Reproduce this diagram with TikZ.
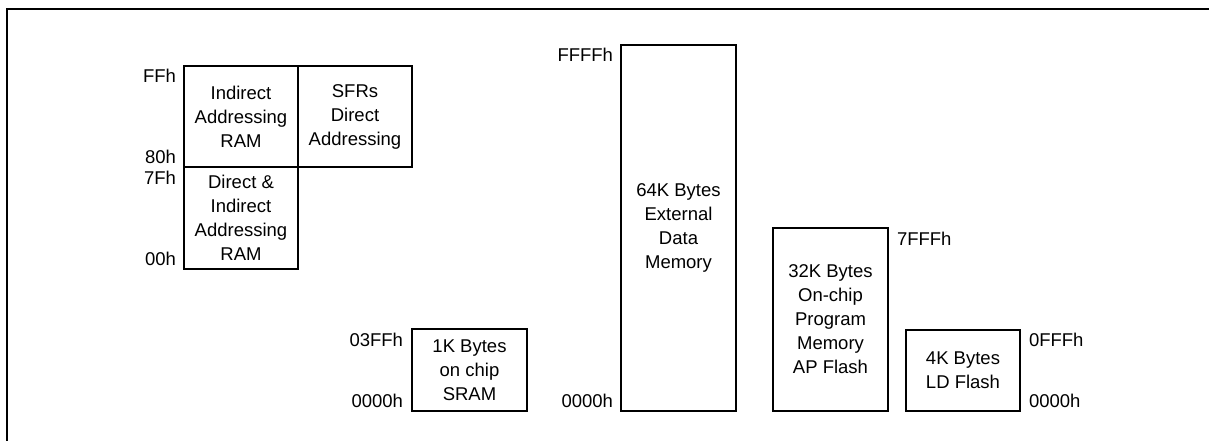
\documentclass[tikz,border=0pt]{standalone}
\usepackage{fontspec}
\setmainfont{Liberation Sans}
\begin{document}
\begin{tikzpicture}[x=1pt,y=-1pt,
  font=\fontsize{18.5}{24}\selectfont,
  mem/.style={draw, line width=1.2pt, inner sep=0pt, outer sep=0pt, align=center, anchor=north west},
  lbl/.style={inner sep=0pt, outer sep=0pt}]
\useasboundingbox (0,0) rectangle (1209,441);
\coordinate (fbl) at (7,446);
\coordinate (ftl) at (7,9);
\coordinate (ftr) at (1214,9);
\draw[line width=2pt] (fbl) -- (ftl) -- (ftr);

\node[mem, minimum width=114pt, minimum height=101pt] (iar) at (184,66) {Indirect\\Addressing\\RAM};
\node[mem, minimum width=114pt, minimum height=101pt] (sfr) at (298,66) {SFRs\\Direct\\Addressing};
\node[mem, minimum width=114pt, minimum height=102pt] (dir) at (184,167) {Direct \&\\Indirect\\Addressing\\RAM};
\node[mem, minimum width=115pt, minimum height=82pt] (sram) at (412,329) {1K Bytes\\on chip\\SRAM};
\node[mem, minimum width=115pt, minimum height=366pt] (ext) at (621,45) {64K Bytes\\External\\Data\\Memory};
\node[mem, minimum width=115pt, minimum height=183pt] (ap) at (773,228) {32K Bytes\\On-chip\\Program\\Memory\\AP Flash};
\node[mem, minimum width=114pt, minimum height=81pt] (ld) at (906,330) {4K Bytes\\LD Flash};

\node[lbl, anchor=base east] (lffh) at ([xshift=-8pt,yshift=-17pt]iar.north west) {FFh};
\node[lbl, anchor=base east] (l80h) at ([xshift=-8pt,yshift=4pt]iar.south west) {80h};
\node[lbl, anchor=base east] (l7fh) at ([xshift=-8pt,yshift=-17pt]dir.north west) {7Fh};
\node[lbl, anchor=base east] (l00h) at ([xshift=-8pt,yshift=4pt]dir.south west) {00h};
\node[lbl, anchor=base east] (l03ff) at ([xshift=-9pt,yshift=-17pt]sram.north west) {03FFh};
\node[lbl, anchor=base east] (lsram0) at ([xshift=-9pt,yshift=4pt]sram.south west) {0000h};
\node[lbl, anchor=base east] (lffff) at ([xshift=-8pt,yshift=-17pt]ext.north west) {FFFFh};
\node[lbl, anchor=base east] (lext0) at ([xshift=-8pt,yshift=4pt]ext.south west) {0000h};
\node[lbl, anchor=base west] (l7fff) at ([xshift=9pt,yshift=-17pt]ap.north east) {7FFFh};
\node[lbl, anchor=base west] (l0fff) at ([xshift=9pt,yshift=-16pt]ld.north east) {0FFFh};
\node[lbl, anchor=base west] (lld0) at ([xshift=9pt,yshift=4pt]ld.south east) {0000h};
\end{tikzpicture}
\end{document}
